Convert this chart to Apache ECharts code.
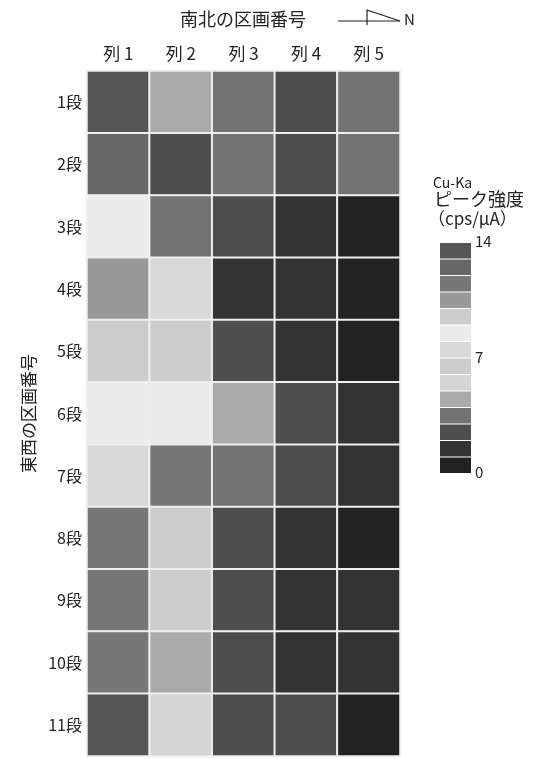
<!DOCTYPE html>
<html>
<head>
<meta charset="utf-8">
<style>
  html, body { margin: 0; padding: 0; background: #fff; }
  #main { width: 533px; height: 759px; }
</style>
<script src="https://cdn.jsdelivr.net/npm/echarts@6/dist/echarts.min.js"></script>
</head>
<body>
<div id="main"></div>
<script>
  // 列（南北）と段（東西）
  var columns = ['列 1', '列 2', '列 3', '列 4', '列 5'];
  var rows = ['1段', '2段', '3段', '4段', '5段', '6段', '7段', '8段', '9段', '10段', '11段'];

  // Cu-Ka ピーク強度（各段、列1〜列5）
  var row1 = [13.5, 4.5, 3.5, 2.5, 3.5];
  var row2 = [12.5, 2.5, 3.5, 2.5, 3.5];
  var row3 = [8.5, 3.5, 2.5, 1.5, 0.5];
  var row4 = [10.5, 7.5, 1.5, 1.5, 0.5];
  var row5 = [9.5, 9.5, 2.5, 1.5, 0.5];
  var row6 = [8.5, 8.5, 4.5, 2.5, 1.5];
  var row7 = [7.5, 11.5, 3.5, 2.5, 1.5];
  var row8 = [11.5, 9.5, 2.5, 1.5, 0.5];
  var row9 = [11.5, 9.5, 2.5, 1.5, 1.5];
  var row10 = [11.5, 4.5, 2.5, 1.5, 1.5];
  var row11 = [13.5, 5.5, 2.5, 2.5, 0.5];

  // 凡例の色（0 から 14 まで 1 刻み）
  var pieceColors = ['#222222', '#333333', '#4e4e4e', '#737373', '#aaaaaa', '#d5d5d5', '#cccccc',
    '#d9d9d9', '#ececec', '#cccccc', '#999999', '#777777', '#666666', '#555555'];
  var legendTicks = [14, 7, 0];

  var font = '"Noto Sans CJK JP", "Noto Sans", sans-serif';
  var textColor = '#222';

  var allRows = [row1, row2, row3, row4, row5, row6, row7, row8, row9, row10, row11];
  var data = [];
  allRows.forEach(function (r, y) {
    r.forEach(function (v, x) {
      data.push([x, y, v]);
    });
  });

  var pieces = pieceColors.map(function (c, i) {
    return { gte: i, lt: i + 1, color: c };
  });

  // 凡例の位置
  var legLeft = 440, legTop = 243, itemH = 15.5, itemGap = 1;
  var step = itemH + itemGap;
  var legMax = pieceColors.length;

  var tickTexts = legendTicks.map(function (t) {
    return {
      type: 'text',
      left: legLeft + 35,
      top: legTop + (legMax - t) * step - 9,
      style: { text: String(t), font: '15px ' + font, fill: textColor }
    };
  });

  var myChart = echarts.init(document.getElementById('main'));
  myChart.setOption({
    animation: false,
    textStyle: { fontFamily: font },
    grid: { left: 87, right: 133, top: 71, bottom: 3 },
    xAxis: {
      type: 'category',
      position: 'top',
      data: columns,
      axisLine: { show: false },
      axisTick: { show: false },
      splitArea: { show: false },
      axisLabel: { color: textColor, fontSize: 17, margin: 9 }
    },
    yAxis: {
      type: 'category',
      inverse: true,
      data: rows,
      name: '東西の区画番号',
      nameLocation: 'middle',
      nameRotate: 90,
      nameGap: 41,
      nameTextStyle: { color: textColor, fontSize: 17 },
      axisLine: { show: false },
      axisTick: { show: false },
      axisLabel: { color: textColor, fontSize: 16, margin: 5 }
    },
    visualMap: {
      type: 'piecewise',
      orient: 'vertical',
      left: legLeft,
      top: legTop,
      padding: 0,
      itemWidth: 31,
      itemHeight: itemH,
      itemGap: itemGap,
      itemSymbol: 'rect',
      showLabel: false,
      hoverLink: false,
      pieces: pieces
    },
    graphic: [
      {
        type: 'text', left: 180, top: 10,
        style: { text: '南北の区画番号', font: '18px ' + font, fill: textColor }
      },
      {
        type: 'polyline',
        shape: { points: [[338, 21], [400, 21]] },
        style: { stroke: '#222', lineWidth: 1.2, fill: null }
      },
      {
        type: 'polyline',
        shape: { points: [[367, 25], [367, 10], [400, 21]] },
        style: { stroke: '#222', lineWidth: 1.2, fill: null }
      },
      {
        type: 'text', left: 404, top: 12,
        style: { text: 'N', font: '15px ' + font, fill: textColor }
      },
      {
        type: 'text', left: 433, top: 176,
        style: { text: 'Cu-Ka', font: '14px ' + font, fill: textColor }
      },
      {
        type: 'text', left: 434, top: 190,
        style: { text: 'ピーク強度', font: '18px ' + font, fill: textColor }
      },
      {
        type: 'text', left: 428, top: 210,
        style: { text: '（cps/μA）', font: '17px ' + font, fill: textColor }
      }
    ].concat(tickTexts),
    series: [{
      type: 'heatmap',
      data: data,
      itemStyle: { borderColor: '#efefef', borderWidth: 2 },
      emphasis: { disabled: true }
    }]
  });
</script>
</body>
</html>
